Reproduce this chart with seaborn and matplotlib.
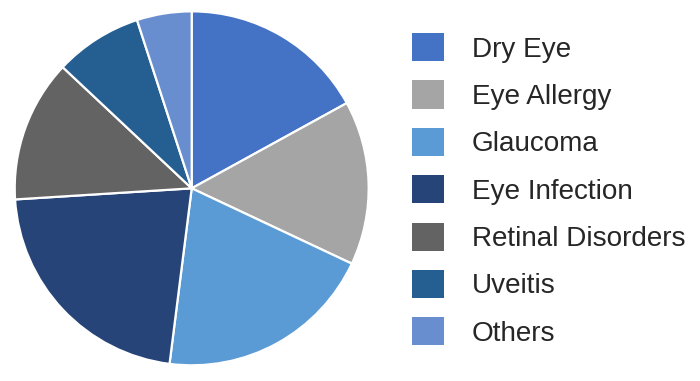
import matplotlib
matplotlib.use("Agg")
import matplotlib.pyplot as plt
import seaborn as sns
from matplotlib.patches import Patch

categories = ["Dry Eye", "Eye Allergy", "Glaucoma", "Eye Infection",
              "Retinal Disorders", "Uveitis", "Others"]
shares = [17, 15, 20, 22, 13, 8, 5]
colors = ["#4472C4", "#A5A5A5", "#5B9BD5", "#264478", "#636363", "#255E91", "#698ED0"]

sns.set_theme(style="white")
plt.rcParams["font.family"] = ["Liberation Sans", "DejaVu Sans"]

fig = plt.figure(figsize=(7.0, 3.81), dpi=100)
ax = fig.add_axes([0.021, 0.0412, 0.5057, 0.929])
ax.pie(shares, colors=colors, startangle=90, counterclock=False, radius=1.0,
       wedgeprops=dict(edgecolor="white", linewidth=1.6))
ax.set_xlim(-1, 1)
ax.set_ylim(-1, 1)
ax.set_aspect("equal")
ax.axis("off")

handles = [Patch(facecolor=c, edgecolor="none") for c in colors]
leg = fig.legend(handles, categories, loc="upper left",
                 bbox_to_anchor=(0.588, 0.913), frameon=False,
                 fontsize=20.1, handlelength=1.17, handleheight=1.17,
                 handletextpad=0.98, labelspacing=0.64, borderaxespad=0,
                 borderpad=0)
for t in leg.get_texts():
    t.set_color("#262626")

fig.savefig("out.png", dpi=100, facecolor="white")
